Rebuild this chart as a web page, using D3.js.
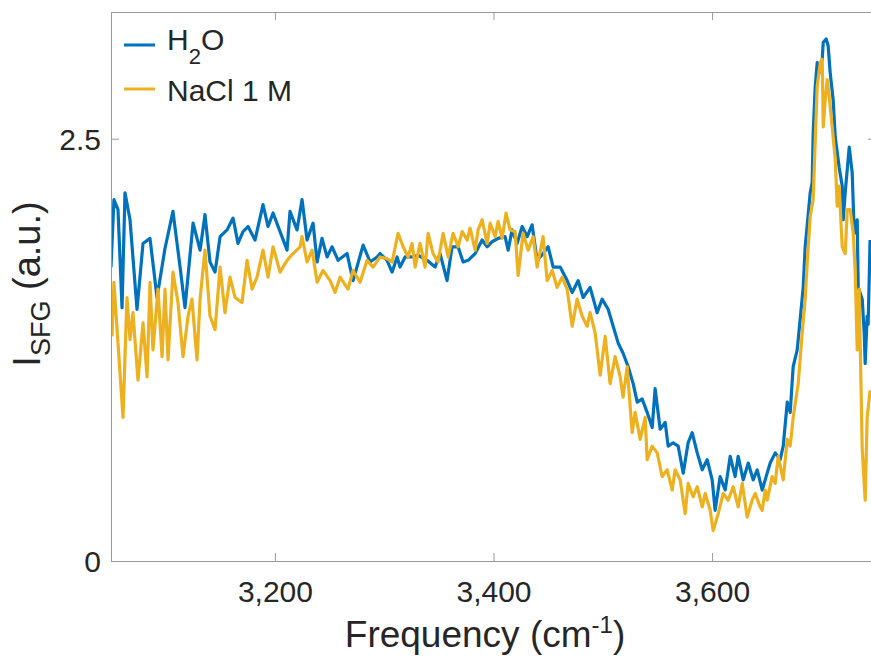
<!DOCTYPE html>
<html>
<head>
    <title>SFG spectra</title>
    <script src="https://d3js.org/d3.v7.min.js"></script>
    <style>
        body { margin: 0; background: #fff; }
        text { font-family: "Liberation Sans", Arial, Helvetica, sans-serif; fill: #262626; }
    </style>
</head>
<body>
    <div id="chart"></div>
    <script>
        // Chart data
        const h2oFreq = [3050, 3052.7, 3056.4, 3060.1, 3062.8, 3067.4, 3073.8, 3079.3, 3085.7, 3092.1,
            3099.4, 3106.7, 3113.2, 3117.7, 3125.1, 3131.5, 3136.0, 3140.6, 3145.2, 3149.8,
            3156.2, 3161.7, 3166.2, 3170.8, 3175.4, 3181.8, 3189.1, 3193.7, 3198.3, 3204.7,
            3211.1, 3213.8, 3220.2, 3224.8, 3229.4, 3234.9, 3238.6, 3243.1, 3247.7, 3252.3,
            3257.8, 3266.0, 3271.5, 3280.7, 3287.1, 3293.5, 3296.2, 3302.6, 3307.2, 3311.8,
            3314.5, 3319.1, 3326.4, 3331.0, 3339.2, 3346.6, 3351.1, 3357.5, 3362.1, 3367.6,
            3372.2, 3376.8, 3383.2, 3389.6, 3394.2, 3398.7, 3404.2, 3410.6, 3413.4, 3417.0,
            3421.6, 3426.2, 3430.8, 3435.3, 3439.9, 3445.4, 3450.0, 3454.6, 3461.0, 3467.4,
            3472.0, 3477.5, 3482.0, 3488.4, 3494.8, 3499.4, 3504.9, 3509.5, 3514.1, 3518.6,
            3523.2, 3527.8, 3531.5, 3536.0, 3540.6, 3545.2, 3547.9, 3552.5, 3557.1, 3559.8,
            3564.4, 3569.0, 3573.6, 3578.1, 3581.8, 3586.4, 3591.0, 3595.5, 3600.1, 3602.8,
            3607.4, 3612.0, 3616.6, 3621.1, 3623.9, 3628.5, 3633.1, 3637.6, 3641.3, 3645.9,
            3650.4, 3653.2, 3657.8, 3662.3, 3665.1, 3668.8, 3671.5, 3674.2, 3677.9, 3680.6,
            3683.4, 3685.2, 3689.8, 3691.6, 3692.5, 3694.4, 3696.2, 3698.0, 3700.8, 3701.7,
            3704.4, 3706.2, 3708.1, 3710.8, 3712.7, 3716.3, 3719.1, 3720.0, 3721.8, 3725.5,
            3728.2, 3730.1, 3732.8, 3733.7, 3737.4, 3739.2, 3740.1, 3741.9, 3742.8, 3744.6];
        const h2oInt = [1.74, 2.14, 2.08, 1.50, 2.18, 2.02, 1.49, 1.88, 1.91, 1.56,
            1.85, 2.07, 1.74, 1.50, 2.00, 1.84, 2.05, 1.77, 1.71, 1.92,
            1.96, 2.03, 1.88, 1.95, 1.98, 1.90, 2.11, 1.98, 2.06, 1.95,
            1.84, 2.07, 1.96, 2.14, 1.90, 2.00, 1.77, 1.91, 1.80, 1.86,
            1.78, 1.82, 1.66, 1.87, 1.77, 1.80, 1.82, 1.78, 1.71, 1.80,
            1.74, 1.80, 1.80, 1.81, 1.78, 1.74, 1.82, 1.66, 1.86, 1.86,
            1.77, 1.78, 1.82, 1.90, 1.86, 1.89, 1.91, 1.92, 1.84, 1.96,
            1.88, 1.98, 1.92, 1.99, 1.78, 1.82, 1.86, 1.74, 1.74, 1.66,
            1.59, 1.66, 1.56, 1.62, 1.47, 1.55, 1.49, 1.39, 1.29, 1.23,
            1.15, 1.05, 0.94, 0.96, 0.88, 0.79, 1.02, 0.78, 0.82, 0.68,
            0.70, 0.68, 0.52, 0.70, 0.76, 0.64, 0.54, 0.60, 0.48, 0.30,
            0.50, 0.42, 0.62, 0.50, 0.62, 0.48, 0.58, 0.48, 0.54, 0.42,
            0.52, 0.58, 0.64, 0.60, 0.68, 0.94, 0.88, 1.15, 1.25, 1.43,
            1.62, 1.86, 2.18, 2.24, 2.53, 2.81, 2.95, 2.89, 2.97, 3.07,
            3.09, 3.05, 2.89, 2.73, 2.51, 2.33, 2.22, 2.02, 2.18, 2.45,
            2.30, 1.94, 2.02, 1.62, 1.55, 1.35, 1.17, 1.45, 1.40, 1.90];

        const naclFreq = [3050.9, 3052.7, 3056.4, 3061.0, 3064.6, 3067.4, 3070.1, 3074.7, 3079.3, 3083.0,
            3085.7, 3088.4, 3093.0, 3096.7, 3099.4, 3102.2, 3106.7, 3111.3, 3115.9, 3120.5,
            3124.1, 3128.7, 3131.5, 3136.0, 3140.6, 3145.2, 3149.8, 3154.3, 3158.9, 3163.5,
            3169.9, 3174.5, 3179.1, 3183.6, 3189.1, 3193.7, 3198.3, 3204.7, 3211.1, 3216.6,
            3223.0, 3224.8, 3229.4, 3234.0, 3238.6, 3244.0, 3250.5, 3255.0, 3259.6, 3266.9,
            3271.5, 3277.9, 3284.3, 3289.8, 3296.2, 3302.6, 3307.2, 3312.7, 3317.3, 3321.8,
            3325.5, 3328.3, 3332.8, 3337.4, 3340.2, 3344.7, 3349.3, 3353.9, 3358.5, 3363.0,
            3367.6, 3371.3, 3375.9, 3378.6, 3383.2, 3385.9, 3389.6, 3394.2, 3396.9, 3401.5,
            3404.2, 3407.9, 3411.5, 3415.2, 3419.8, 3422.5, 3427.1, 3431.7, 3436.3, 3439.9,
            3445.4, 3449.1, 3453.7, 3458.2, 3462.8, 3467.4, 3472.0, 3476.5, 3481.1, 3485.7,
            3488.4, 3493.0, 3497.6, 3502.2, 3506.7, 3511.3, 3515.9, 3518.6, 3522.3, 3526.9,
            3529.6, 3534.2, 3538.8, 3540.6, 3545.2, 3549.8, 3554.3, 3558.9, 3563.5, 3566.2,
            3570.8, 3575.4, 3578.1, 3582.7, 3586.4, 3591.0, 3593.7, 3598.3, 3601.0, 3605.6,
            3610.2, 3614.7, 3619.3, 3623.9, 3627.6, 3632.1, 3636.7, 3639.5, 3644.0, 3645.9,
            3648.6, 3650.4, 3655.0, 3657.8, 3660.5, 3665.1, 3668.8, 3671.5, 3674.2, 3678.8,
            3682.5, 3685.2, 3687.1, 3689.8, 3692.5, 3694.4, 3696.2, 3699.0, 3700.8, 3701.7,
            3703.5, 3705.4, 3707.2, 3709.9, 3712.7, 3714.5, 3716.3, 3719.1, 3721.8, 3723.7,
            3726.4, 3729.2, 3731.0, 3732.8, 3734.6, 3737.4, 3740.1, 3741.9, 3744.6];
        const naclInt = [1.33, 1.65, 1.29, 0.85, 1.56, 1.31, 1.47, 1.07, 1.41, 1.09,
            1.65, 1.25, 1.61, 1.21, 1.61, 1.19, 1.71, 1.53, 1.21, 1.45,
            1.55, 1.19, 1.55, 1.84, 1.45, 1.37, 1.74, 1.47, 1.68, 1.56,
            1.53, 1.78, 1.61, 1.68, 1.84, 1.68, 1.86, 1.71, 1.78, 1.82,
            1.86, 1.92, 1.77, 1.84, 1.65, 1.72, 1.66, 1.59, 1.68, 1.61,
            1.72, 1.65, 1.78, 1.74, 1.80, 1.79, 1.77, 1.94, 1.86, 1.80,
            1.88, 1.74, 1.88, 1.74, 1.94, 1.82, 1.77, 1.94, 1.80, 1.94,
            1.86, 1.95, 1.90, 1.97, 1.84, 1.96, 2.02, 1.88, 2.00, 1.92,
            2.01, 1.91, 2.06, 1.96, 1.95, 1.69, 1.94, 1.84, 1.92, 1.74,
            1.92, 1.66, 1.72, 1.62, 1.68, 1.61, 1.39, 1.55, 1.45, 1.39,
            1.47, 1.35, 1.10, 1.33, 1.05, 1.21, 1.09, 0.97, 1.15, 0.76,
            0.88, 0.72, 0.85, 0.60, 0.68, 0.64, 0.50, 0.54, 0.42, 0.54,
            0.48, 0.28, 0.46, 0.38, 0.44, 0.32, 0.40, 0.30, 0.18, 0.28,
            0.40, 0.36, 0.44, 0.32, 0.46, 0.26, 0.36, 0.40, 0.32, 0.30,
            0.42, 0.36, 0.50, 0.46, 0.62, 0.48, 0.72, 0.68, 0.85, 1.05,
            1.35, 1.55, 1.77, 2.04, 2.14, 2.49, 2.81, 2.95, 2.97, 2.57,
            2.73, 2.85, 2.75, 2.57, 2.38, 2.10, 2.22, 1.86, 1.82, 2.08,
            2.08, 1.94, 1.71, 1.25, 1.61, 0.66, 0.36, 0.85, 1.01];

        const seriesNames = ["H2O", "NaCl 1 M"];
        const seriesColors = ["#0072BD", "#EDB120"];
        const xTicks = [3200, 3400, 3600];
        const yTicks = [0, 2.5];

        const width = 871;
        const height = 656;
        const margin = { left: 111, top: 12, bottom: 95 };
        const plotRight = 876;  // right axis lies just past the picture edge

        const svg = d3.select("#chart")
            .append("svg")
            .attr("width", width)
            .attr("height", height);

        const x = d3.scaleLinear()
            .domain([3050, 3750])
            .range([margin.left, plotRight]);
        const y = d3.scaleLinear()
            .domain([0, 3.25])
            .range([height - margin.bottom, margin.top]);

        const axisColor = "#9a9a9a";
        const tickLen = 8;

        // Clip lines to the axes box
        svg.append("clipPath").attr("id", "clip")
            .append("rect")
            .attr("x", margin.left).attr("y", margin.top)
            .attr("width", plotRight - margin.left)
            .attr("height", y(0) - margin.top);

        // Data lines
        const line = d3.line()
            .x(d => x(d[0]))
            .y(d => y(d[1]));

        const series = [
            d3.zip(h2oFreq, h2oInt),
            d3.zip(naclFreq, naclInt)
        ];

        svg.append("g")
            .attr("clip-path", "url(#clip)")
            .selectAll("path")
            .data(series)
            .enter()
            .append("path")
            .attr("d", line)
            .attr("fill", "none")
            .attr("stroke", (d, i) => seriesColors[i])
            .attr("stroke-width", 3.2)
            .attr("stroke-linejoin", "round");

        // Axes box with inward ticks (bottom/left with labels, top/right plain)
        const xAxisBottom = d3.axisBottom(x).tickValues(xTicks)
            .tickSize(-tickLen).tickFormat(d3.format(","));
        const xAxisTop = d3.axisTop(x).tickValues(xTicks)
            .tickSize(-tickLen).tickFormat("");
        const yAxisLeft = d3.axisLeft(y).tickValues(yTicks)
            .tickSize(-tickLen).tickFormat(d3.format(""));
        const yAxisRight = d3.axisRight(y).tickValues(yTicks)
            .tickSize(-tickLen).tickFormat("");

        const gx = svg.append("g")
            .attr("transform", `translate(0,${y(0)})`)
            .call(xAxisBottom);
        svg.append("g")
            .attr("transform", `translate(0,${margin.top})`)
            .call(xAxisTop);
        const gy = svg.append("g")
            .attr("transform", `translate(${margin.left},0)`)
            .call(yAxisLeft);
        svg.append("g")
            .attr("transform", `translate(${plotRight},0)`)
            .call(yAxisRight);

        svg.selectAll(".domain, .tick line")
            .attr("stroke", axisColor)
            .attr("stroke-width", 1);

        gx.selectAll(".tick text")
            .attr("y", 20)
            .attr("dy", "0.71em")
            .style("font-size", "30px")
            .style("fill", "#262626");
        gy.selectAll(".tick text")
            .attr("x", -10)
            .attr("dy", "0.36em")
            .style("font-size", "30px")
            .style("fill", "#262626");

        // X label with superscript
        const xl = svg.append("text")
            .attr("x", 485)
            .attr("y", 647)
            .attr("text-anchor", "middle")
            .style("font-size", "37px");
        xl.append("tspan").text("Frequency (cm");
        xl.append("tspan").attr("dy", -14).style("font-size", "24px").text("-1");
        xl.append("tspan").attr("dy", 14).text(")");

        // Y label with subscript
        const yl = svg.append("text")
            .attr("transform", "translate(40,284) rotate(-90)")
            .attr("text-anchor", "middle")
            .style("font-size", "38px");
        yl.append("tspan").text("I");
        yl.append("tspan").attr("dy", 10).style("font-size", "27px").text("SFG");
        yl.append("tspan").attr("dy", -10).text(" (a.u.)");

        // Legend
        const legendY = [45, 89];
        const lg = svg.append("g");
        lg.selectAll("line")
            .data(seriesNames)
            .enter()
            .append("line")
            .attr("x1", 124).attr("x2", 155)
            .attr("y1", (d, i) => legendY[i]).attr("y2", (d, i) => legendY[i])
            .attr("stroke", (d, i) => seriesColors[i])
            .attr("stroke-width", 3);

        const t1 = lg.append("text")
            .attr("x", 167).attr("y", 50)
            .style("font-size", "30px");
        t1.append("tspan").text("H");
        t1.append("tspan").attr("dy", 14).style("font-size", "22px").text("2");
        t1.append("tspan").attr("dy", -14).text("O");

        lg.append("text")
            .attr("x", 167).attr("y", 101)
            .style("font-size", "30px")
            .text(seriesNames[1]);
    </script>
</body>
</html>
